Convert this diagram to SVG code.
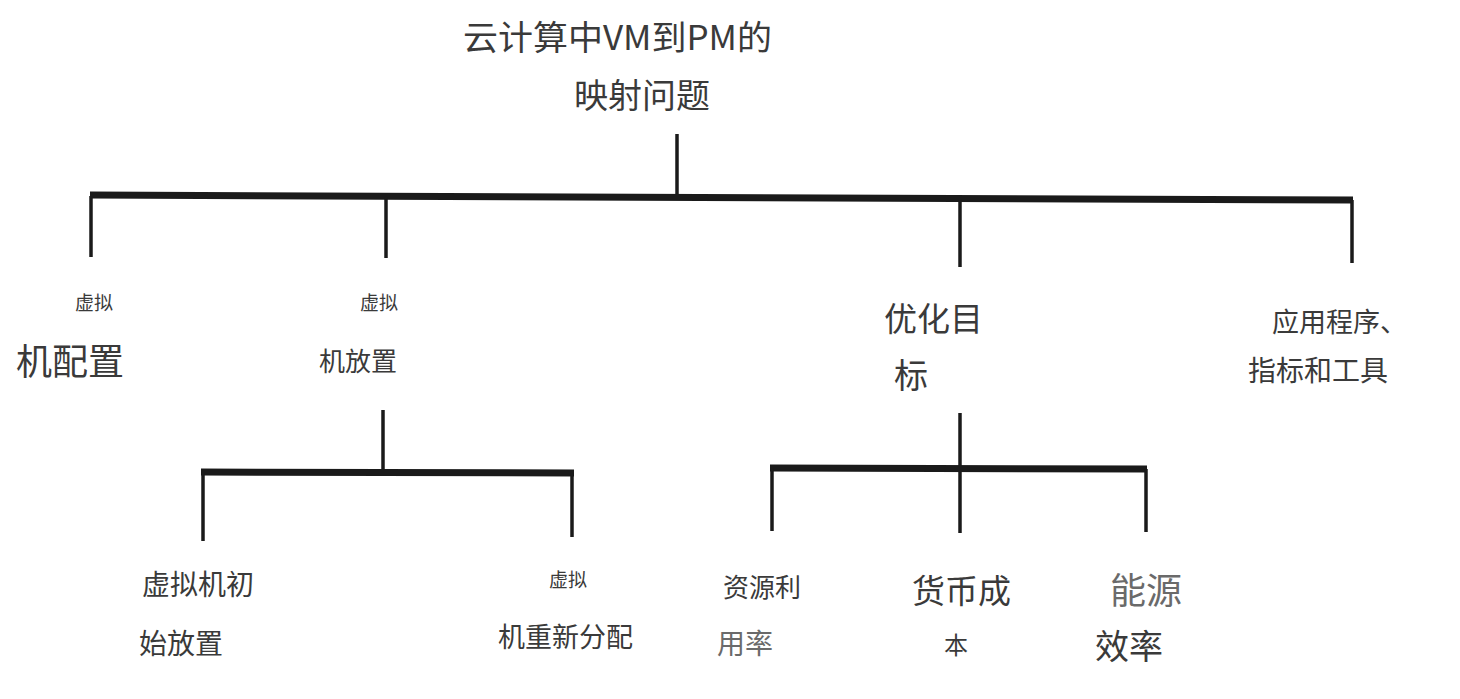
<svg xmlns="http://www.w3.org/2000/svg" width="1460" height="699" viewBox="0 0 1460 699">
<style>
text{font-family:"Noto Sans CJK SC","Noto Sans",sans-serif;fill:#3a3a3a}
.lt{fill:#6a6a6a}
.bar{stroke:#1a1a1a;stroke-width:7;fill:none}
.ln{stroke:#1a1a1a;stroke-width:3.5;fill:none}
</style>
<rect width="1460" height="699" fill="#fff"/>
<g id="connectors">
<line class="ln" x1="677" y1="134" x2="677" y2="196"/>
<line class="bar" x1="90" y1="195" x2="1353" y2="200"/>
<line class="ln" x1="91" y1="196" x2="91" y2="257"/>
<line class="ln" x1="386" y1="197" x2="386" y2="258"/>
<line class="ln" x1="960" y1="199" x2="960" y2="267"/>
<line class="ln" x1="1352" y1="200" x2="1352" y2="263"/>
<line class="ln" x1="383" y1="410" x2="383" y2="471"/>
<line class="bar" x1="201" y1="472" x2="574" y2="473"/>
<line class="ln" x1="203" y1="472" x2="203" y2="541"/>
<line class="ln" x1="572" y1="473" x2="572" y2="537"/>
<line class="ln" x1="960" y1="413" x2="960" y2="533"/>
<line class="bar" x1="770" y1="468" x2="1147" y2="469"/>
<line class="ln" x1="772" y1="468" x2="772" y2="531"/>
<line class="ln" x1="1146" y1="469" x2="1146" y2="532"/>
</g>
<g id="root">
<text x="463" y="50" font-size="34" textLength="309" lengthAdjust="spacingAndGlyphs">云计算中VM到PM的</text>
<text x="574" y="108" font-size="34">映射问题</text>
</g>
<g id="vm-config">
<text x="75" y="310" font-size="19">虚拟</text>
<text x="16" y="375" font-size="36">机配置</text>
</g>
<g id="vm-placement">
<text x="360" y="310" font-size="19">虚拟</text>
<text x="319" y="371" font-size="26">机放置</text>
</g>
<g id="objectives">
<text x="884" y="331" font-size="33">优化目</text>
<text x="894" y="388" font-size="34">标</text>
</g>
<g id="apps">
<text x="1272" y="332" font-size="27">应用程序、</text>
<text x="1248" y="381" font-size="28">指标和工具</text>
</g>
<g id="initial-placement">
<text x="142" y="595" font-size="28">虚拟机初</text>
<text x="139" y="654" font-size="28">始放置</text>
</g>
<g id="reallocation">
<text x="549" y="587" font-size="19">虚拟</text>
<text x="498" y="647" font-size="27">机重新分配</text>
</g>
<g id="utilization">
<text x="723" y="597" font-size="26">资源利</text>
<text class="lt" x="717" y="654" font-size="28">用率</text>
</g>
<g id="cost">
<text x="912" y="603" font-size="33">货币成</text>
<text x="944" y="654" font-size="24">本</text>
</g>
<g id="energy">
<text class="lt" x="1110" y="604" font-size="36">能源</text>
<text x="1095" y="659" font-size="34">效率</text>
</g>
</svg>
